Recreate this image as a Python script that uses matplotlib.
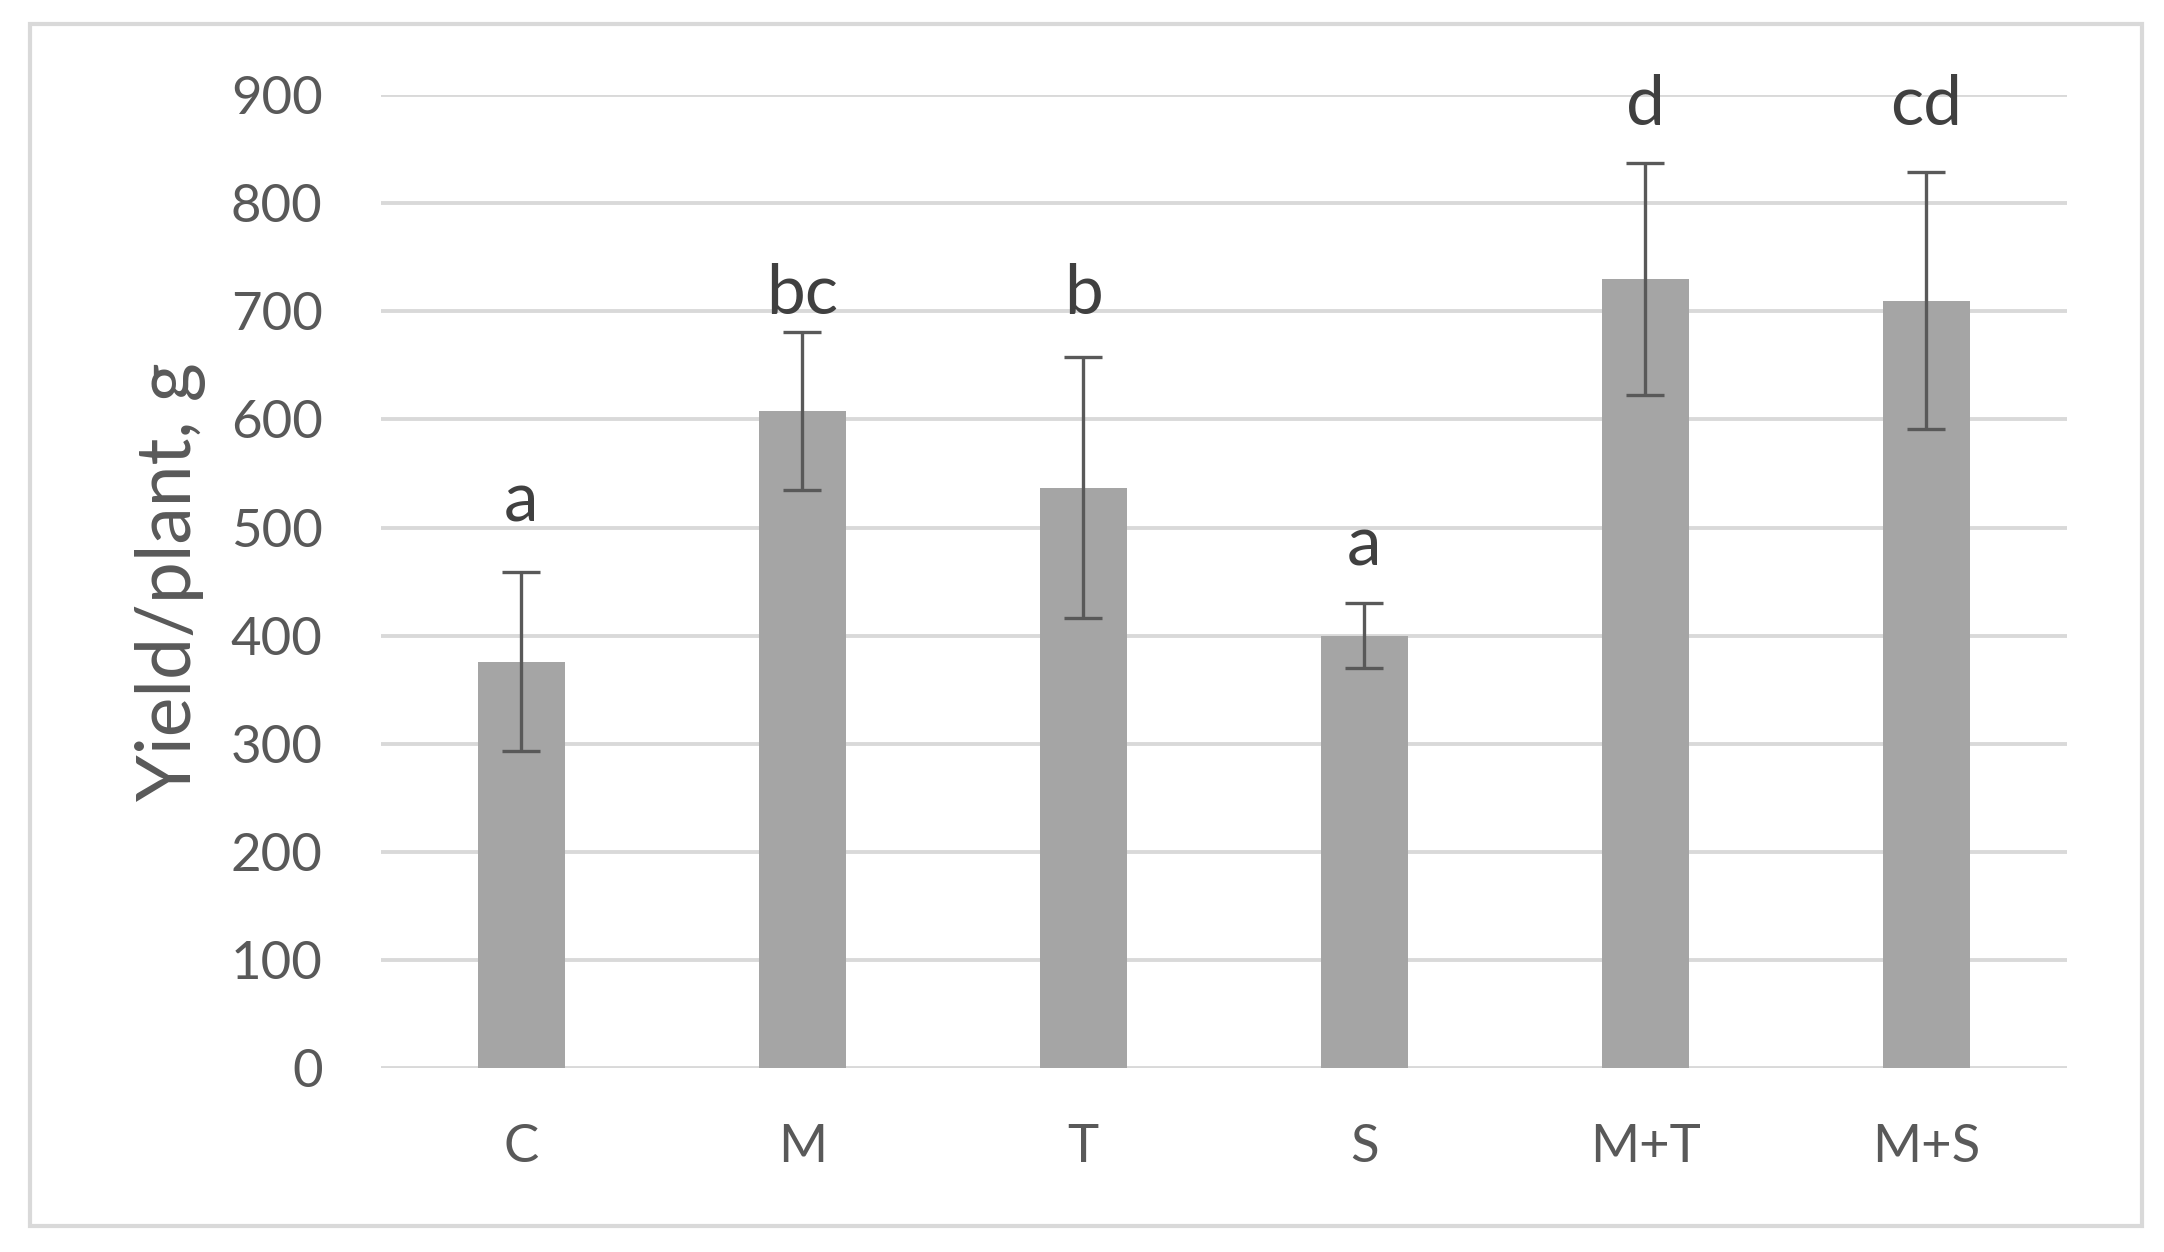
import numpy as np
import matplotlib.pyplot as plt
from matplotlib.patches import Rectangle

# ---- data ----
categories = ["C", "M", "T", "S", "M+T", "M+S"]
yield_means = [376, 608, 537, 400, 730, 710]
yield_err = [83, 73, 121, 30, 107, 119]
letters = ["a", "bc", "b", "a", "d", "cd"]
letter_y = [524, 716, 716, 483, 890, 890]
yticks = [0, 100, 200, 300, 400, 500, 600, 700, 800, 900]

BAR = "#A5A5A5"
ERR = "#595959"
TXT = "#595959"
GRID = "#D9D9D9"

plt.rcParams["font.family"] = ["Lato", "DejaVu Sans"]

fig = plt.figure(figsize=(21.64, 12.52), dpi=100)
ax = fig.add_axes([0.176, 0.147, 0.779, 0.777])

x = np.arange(len(categories))
ax.bar(x, yield_means, width=0.31, color=BAR, zorder=2)
ax.errorbar(x, yield_means, yerr=yield_err, fmt="none", ecolor=ERR,
            elinewidth=2.4, capsize=14, capthick=2.4, zorder=3)

for xi, lab, ly in zip(x, letters, letter_y):
    ax.text(xi, ly, lab, ha="center", va="center", fontsize=50,
            color="#404040", clip_on=False)

ax.set_xlim(-0.5, len(categories) - 0.5)
ax.set_ylim(0, 900)
ax.set_yticks(yticks)
ax.set_xticks(x)
ax.set_xticklabels(categories)
ax.yaxis.grid(True, color=GRID, linewidth=2.8, zorder=0)
ax.set_axisbelow(True)
for s in ax.spines.values():
    s.set_visible(False)
ax.tick_params(axis="both", length=0, labelsize=38, colors=TXT)
ax.tick_params(axis="y", pad=42)
ax.tick_params(axis="x", pad=40)
ax.set_ylabel("Yield/plant, g", fontsize=54, color=TXT, labelpad=18)

# light frame round the chart area like the original chart box
fig.patches.append(Rectangle((0.014, 0.021), 0.976, 0.96, transform=fig.transFigure,
                             fill=False, edgecolor=GRID, linewidth=3))

fig.savefig("out.png", dpi=100, facecolor="white")
